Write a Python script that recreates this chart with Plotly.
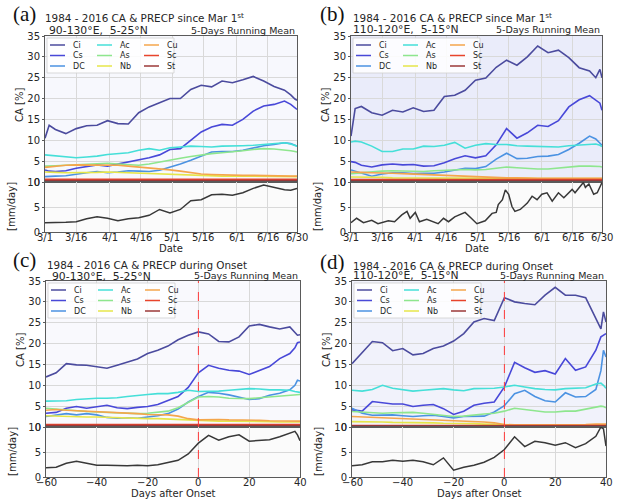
import plotly.graph_objects as go

FIG_W, FIG_H = 628, 501

# ---------------- data ----------------
cloud_types = ['Ci', 'Cs', 'DC', 'Ac', 'As', 'Nb', 'Cu', 'Sc', 'St']
cloud_colors = ['#4b4b9e', '#4848d8', '#4b92e2', '#45dfd8', '#8ee68e',
                '#e6e64a', '#f4a64c', '#e8442c', '#9b3838']

# days since Mar 1 (panels a, b)
date_days = [0, 2, 5, 10, 15, 20, 25, 30, 35, 40, 45, 50, 55, 60, 65, 70, 75,
             80, 85, 90, 95, 100, 105, 110, 115, 118, 120, 121]
date_tick_vals = [0, 15, 31, 46, 61, 76, 92, 107, 121]
date_tick_text = ['3/1', '3/16', '4/1', '4/16', '5/1', '5/16', '6/1', '6/16', '6/30']

# days after onset (panels c, d)
onset_days = [-60, -56, -52, -48, -44, -40, -36, -32, -28, -24, -20, -16, -12,
              -8, -4, 0, 4, 8, 12, 16, 20, 24, 28, 32, 36, 38, 39, 40]
onset_tick_vals = [-60, -40, -20, 0, 20, 40]
onset_tick_text = ['\u221260', '\u221240', '\u221220', '0', '20', '40']

ca_tick_vals = [0, 5, 10, 15, 20, 25, 30, 35]
precip_tick_vals = [0, 5, 10]

# ---- panel (a): 90-130E, 5-25N, since Mar 1
a_Ci = [10.5, 13.6, 12.6, 11.6, 12.8, 13.5, 13.6, 14.7, 14.0, 13.9, 16.6, 18.0, 19.0, 20.0,
        20.0, 22.2, 23.2, 22.8, 24.2, 23.8, 24.5, 25.3, 24.2, 22.9, 22.0, 20.9, 19.9, 19.6]
a_Cs = [2.9, 2.6, 2.5, 2.7, 3.3, 3.7, 4.1, 3.8, 4.3, 4.9, 5.3, 5.8, 6.5, 7.8,
        8.0, 10.0, 12.0, 13.2, 13.8, 13.6, 15.0, 17.0, 18.2, 18.6, 19.4, 18.6, 17.8, 17.4]
a_DC = [1.3, 1.3, 1.4, 1.5, 1.9, 2.2, 2.5, 2.2, 2.4, 2.7, 2.6, 2.5, 2.8, 3.5,
        4.3, 5.2, 6.2, 7.2, 7.3, 7.3, 7.6, 8.1, 8.7, 9.0, 9.4, 9.2, 8.8, 8.6]
a_Ac = [6.5, 6.4, 6.3, 5.9, 5.8, 6.0, 6.2, 6.6, 6.8, 7.0, 7.6, 8.0, 7.6, 8.2,
        8.4, 8.6, 8.5, 8.4, 8.6, 8.6, 8.7, 8.8, 9.0, 9.2, 9.4, 9.1, 8.7, 8.6]
a_As = [3.8, 3.8, 3.9, 4.0, 4.1, 4.2, 4.3, 4.5, 4.3, 4.1, 4.0, 4.3, 4.8, 5.2,
        5.7, 6.1, 6.5, 6.8, 7.0, 7.2, 7.5, 7.8, 8.0, 7.9, 7.7, 7.5, 7.3, 7.2]
a_Nb = [2.4, 2.4, 2.3, 2.2, 2.2, 2.3, 2.3, 2.4, 2.3, 2.2, 2.1, 2.0, 1.9, 1.8,
        1.7, 1.6, 1.5, 1.5, 1.4, 1.4, 1.4, 1.4, 1.3, 1.3, 1.3, 1.3, 1.3, 1.3]
a_Cu = [3.5, 3.6, 3.8, 4.0, 4.1, 4.1, 4.0, 4.1, 4.0, 3.8, 3.6, 3.3, 3.1, 2.9,
        2.6, 2.3, 1.9, 1.8, 1.7, 1.7, 1.6, 1.6, 1.5, 1.5, 1.4, 1.4, 1.4, 1.4]
a_Sc = [0.6, 0.6, 0.6, 0.6, 0.6, 0.6, 0.6, 0.6, 0.6, 0.6, 0.6, 0.6, 0.6, 0.6,
        0.6, 0.6, 0.6, 0.6, 0.6, 0.6, 0.6, 0.6, 0.6, 0.6, 0.6, 0.6, 0.6, 0.6]
a_St = [0.3, 0.3, 0.3, 0.3, 0.3, 0.3, 0.3, 0.3, 0.3, 0.3, 0.3, 0.3, 0.3, 0.3,
        0.3, 0.3, 0.3, 0.3, 0.3, 0.3, 0.3, 0.3, 0.3, 0.3, 0.3, 0.3, 0.3, 0.3]
a_precip = [1.9, 1.9, 1.9, 2.0, 2.1, 2.7, 3.1, 2.8, 2.3, 2.7, 2.9, 3.4, 4.6, 3.9,
            4.6, 6.4, 6.6, 7.6, 7.7, 7.5, 8.0, 8.9, 9.6, 9.1, 8.6, 8.5, 8.7, 8.9]

# ---- panel (b): 110-120E, 5-15N, since Mar 1
b_Ci = [11.0, 17.6, 18.1, 16.6, 16.0, 17.2, 16.8, 17.8, 16.9, 17.2, 20.5, 20.8, 22.0, 24.4,
        24.9, 27.5, 29.2, 28.0, 30.0, 32.6, 31.0, 31.6, 29.8, 27.4, 26.6, 25.0, 27.0, 25.0]
b_Cs = [4.9, 4.7, 4.0, 3.6, 4.1, 4.3, 4.1, 4.2, 3.8, 3.9, 4.6, 5.6, 6.3, 5.8,
        6.3, 8.9, 12.8, 10.5, 11.8, 13.6, 13.3, 14.7, 18.0, 19.7, 20.7, 19.5, 18.9, 17.2]
b_DC = [2.9, 2.6, 2.0, 1.4, 1.9, 2.2, 2.2, 2.0, 2.1, 2.1, 2.4, 2.9, 3.3, 3.2,
        3.7, 5.5, 6.9, 5.6, 5.7, 6.1, 6.2, 6.6, 7.8, 9.3, 11.0, 10.3, 9.3, 8.8]
b_Ac = [9.6, 9.8, 9.6, 8.6, 7.3, 7.3, 7.9, 7.9, 8.6, 8.5, 8.8, 9.5, 8.1, 8.8,
        9.2, 9.0, 9.0, 8.7, 8.6, 8.5, 8.5, 8.4, 8.7, 8.8, 9.0, 9.1, 8.8, 8.5]
b_As = [2.0, 2.1, 2.2, 2.4, 2.6, 2.7, 2.6, 2.5, 2.5, 2.7, 2.8, 2.9, 3.0, 2.9,
        3.0, 3.3, 3.6, 3.4, 3.2, 3.1, 3.1, 3.3, 3.6, 3.8, 3.8, 3.8, 3.7, 3.6]
b_Nb = [1.2, 1.2, 1.1, 1.1, 1.1, 1.0, 1.0, 1.0, 1.0, 1.0, 0.9, 0.9, 0.9, 0.9,
        0.9, 0.9, 0.9, 0.9, 0.9, 0.8, 0.8, 0.8, 0.8, 0.8, 0.8, 0.8, 0.8, 0.8]
b_Cu = [2.4, 2.4, 2.3, 2.2, 2.2, 2.1, 2.0, 1.9, 1.8, 1.6, 1.5, 1.4, 1.3, 1.2,
        1.1, 1.1, 1.0, 1.0, 0.9, 0.9, 0.9, 0.9, 0.9, 0.9, 0.9, 0.9, 0.9, 0.9]
b_Sc = [0.5, 0.5, 0.5, 0.5, 0.5, 0.5, 0.5, 0.5, 0.5, 0.5, 0.5, 0.5, 0.5, 0.5,
        0.5, 0.5, 0.5, 0.5, 0.5, 0.5, 0.5, 0.5, 0.5, 0.5, 0.5, 0.5, 0.5, 0.5]
b_St = [0.3, 0.3, 0.3, 0.3, 0.3, 0.3, 0.3, 0.3, 0.3, 0.3, 0.3, 0.3, 0.3, 0.3,
        0.3, 0.3, 0.3, 0.3, 0.3, 0.3, 0.3, 0.3, 0.3, 0.3, 0.3, 0.3, 0.3, 0.3]
b_precip_days = [0, 2.7, 6, 10, 13, 18, 21, 24.5, 27, 28.5, 31, 33, 36.5, 40, 42, 44.6,
                 47, 50, 55, 58, 60.7, 64.7, 68, 70, 71, 73, 74.4, 76, 77.6, 79, 81.6,
                 85, 87.3, 89.7, 92, 94.5, 97, 100, 102.6, 106.6, 108, 112, 113,
                 114.7, 117, 118.7, 121]
b_precip = [1.9, 2.8, 1.9, 2.4, 1.7, 2.3, 2.1, 3.5, 4.2, 2.8, 4.0, 2.1, 2.6, 2.1, 1.7, 2.8,
            2.1, 3.1, 4.0, 2.8, 1.7, 2.3, 3.8, 4.0, 5.6, 6.6, 8.6, 7.7, 5.2, 4.2, 4.6,
            5.9, 7.3, 6.6, 7.7, 8.0, 6.3, 8.0, 7.0, 8.7, 8.0, 10.1, 9.1,
            9.8, 7.7, 8.0, 10.1]

# ---- panel (c): 90-130E, 5-25N, during onset
c_Ci = [12.0, 13.0, 15.2, 14.9, 14.8, 14.4, 14.1, 14.8, 15.5, 16.3, 17.6, 18.4, 19.4, 20.9,
        22.0, 22.8, 22.3, 20.5, 20.4, 21.6, 24.2, 24.6, 24.0, 23.5, 24.0, 22.6, 22.0, 22.1]
c_Cs = [3.3, 3.5, 4.5, 4.9, 4.5, 4.9, 5.2, 4.6, 4.4, 4.7, 4.9, 5.4, 6.3, 7.3,
        9.5, 13.0, 14.8, 14.1, 13.6, 13.4, 12.6, 13.6, 14.5, 16.4, 17.6, 19.0, 20.2, 20.4]
c_DC = [2.5, 2.8, 3.2, 2.9, 3.2, 2.9, 2.3, 2.1, 2.2, 2.1, 2.4, 2.7, 3.2, 4.3,
        6.0, 7.3, 8.3, 8.1, 7.7, 7.1, 6.6, 6.8, 7.6, 8.1, 8.9, 10.0, 11.2, 11.0]
c_Ac = [6.2, 6.2, 6.3, 6.6, 6.8, 6.9, 6.9, 7.0, 7.3, 7.6, 7.8, 8.0, 8.0, 8.3,
        8.8, 8.5, 8.5, 8.6, 8.8, 9.0, 9.2, 9.1, 8.9, 8.9, 8.8, 8.5, 8.4, 8.3]
c_As = [4.5, 4.3, 4.0, 3.9, 3.7, 3.6, 3.5, 3.4, 3.3, 3.2, 3.3, 3.5, 3.8, 4.6,
        6.0, 7.2, 7.3, 7.2, 6.9, 6.8, 6.8, 7.0, 7.2, 7.4, 7.6, 7.7, 7.8, 7.8]
c_Nb = [2.7, 2.6, 2.6, 2.5, 2.4, 2.4, 2.3, 2.2, 2.2, 2.1, 2.0, 2.0, 1.9, 1.8,
        1.6, 1.5, 1.5, 1.4, 1.4, 1.4, 1.3, 1.3, 1.3, 1.2, 1.2, 1.2, 1.2, 1.2]
c_Cu = [4.0, 4.2, 4.0, 3.9, 3.8, 3.7, 3.6, 3.5, 3.4, 3.2, 3.0, 2.9, 2.9, 2.6,
        2.0, 1.7, 1.8, 1.8, 1.7, 1.7, 1.6, 1.6, 1.5, 1.5, 1.4, 1.4, 1.4, 1.4]
c_Sc = [0.5, 0.5, 0.5, 0.5, 0.5, 0.5, 0.5, 0.5, 0.5, 0.5, 0.5, 0.5, 0.5, 0.5,
        0.5, 0.5, 0.5, 0.5, 0.5, 0.5, 0.5, 0.5, 0.5, 0.5, 0.5, 0.5, 0.5, 0.5]
c_St = [0.3, 0.3, 0.3, 0.3, 0.3, 0.3, 0.3, 0.3, 0.3, 0.3, 0.3, 0.3, 0.3, 0.3,
        0.3, 0.3, 0.3, 0.3, 0.3, 0.3, 0.3, 0.3, 0.3, 0.3, 0.3, 0.3, 0.3, 0.3]
c_precip = [1.9, 2.0, 2.8, 3.2, 2.8, 2.4, 2.4, 2.3, 2.3, 2.4, 2.3, 2.5, 3.0, 3.4,
            4.7, 6.9, 8.5, 7.5, 8.2, 8.6, 7.3, 7.4, 7.6, 8.2, 8.9, 9.3, 8.6, 7.4]

# ---- panel (d): 110-120E, 5-15N, during onset
d_Ci = [15.2, 17.9, 20.5, 20.2, 18.3, 18.8, 17.3, 17.6, 18.8, 19.4, 20.6, 22.4, 25.2, 26.0,
        25.5, 31.0, 30.0, 29.6, 29.3, 31.6, 33.5, 31.6, 31.6, 31.0, 25.8, 23.5, 27.6, 25.2]
d_Cs = [4.1, 3.8, 6.1, 5.8, 5.5, 5.5, 4.9, 5.2, 5.4, 4.4, 3.0, 3.8, 5.2, 5.7,
        6.0, 9.6, 15.5, 14.2, 13.1, 13.5, 12.7, 16.4, 13.6, 14.4, 18.4, 21.6, 22.0, 22.4]
d_DC = [4.5, 3.3, 2.8, 2.8, 2.9, 2.7, 2.5, 2.7, 2.8, 2.5, 2.2, 2.5, 2.6, 2.6,
        3.6, 5.1, 8.0, 8.8, 7.3, 6.3, 6.0, 8.2, 7.2, 7.3, 9.0, 13.5, 18.4, 16.8]
d_Ac = [8.8, 8.6, 9.0, 10.0, 9.3, 9.0, 8.6, 8.8, 9.0, 9.2, 8.9, 8.7, 9.2, 9.2,
        9.3, 9.6, 10.0, 9.6, 9.2, 9.0, 8.9, 9.2, 9.3, 9.4, 10.3, 10.5, 10.0, 9.3]
d_As = [3.7, 3.6, 3.4, 3.3, 3.4, 3.4, 3.5, 3.3, 3.0, 2.8, 2.5, 2.6, 2.9, 3.1,
        3.3, 3.8, 4.5, 4.2, 3.8, 3.6, 3.6, 3.8, 3.8, 4.3, 4.8, 5.0, 4.9, 4.6]
d_Nb = [1.3, 1.3, 1.2, 1.2, 1.1, 1.1, 1.0, 1.0, 1.0, 0.9, 0.9, 0.8, 0.8, 0.7,
        0.6, 0.5, 0.5, 0.5, 0.5, 0.5, 0.5, 0.5, 0.5, 0.5, 0.5, 0.5, 0.5, 0.5]
d_Cu = [2.5, 2.4, 2.3, 2.2, 2.1, 2.1, 2.0, 1.9, 1.8, 1.7, 1.5, 1.4, 1.3, 1.2,
        1.0, 0.6, 0.5, 0.5, 0.5, 0.5, 0.5, 0.5, 0.6, 0.6, 0.7, 0.7, 0.7, 0.7]
d_Sc = [0.3, 0.3, 0.3, 0.3, 0.3, 0.3, 0.3, 0.3, 0.3, 0.3, 0.3, 0.3, 0.3, 0.3,
        0.3, 0.3, 0.3, 0.3, 0.3, 0.3, 0.3, 0.3, 0.3, 0.3, 0.3, 0.3, 0.3, 0.3]
d_St = [0.2, 0.2, 0.2, 0.2, 0.2, 0.2, 0.2, 0.2, 0.2, 0.2, 0.2, 0.2, 0.2, 0.2,
        0.2, 0.2, 0.2, 0.2, 0.2, 0.2, 0.2, 0.2, 0.2, 0.2, 0.2, 0.2, 0.2, 0.2]
d_precip = [2.3, 2.5, 3.1, 3.1, 3.4, 3.2, 3.4, 3.1, 2.5, 3.9, 1.4, 2.0, 2.4, 3.0,
            4.0, 5.6, 8.2, 6.2, 7.3, 7.0, 6.5, 7.0, 6.0, 6.8, 8.3, 10.2, 9.8, 6.3]

panel_tags = ['(a)', '(b)', '(c)', '(d)']
panel_titles = ['1984 - 2016 CA & PRECP since Mar 1<sup>st</sup>',
                '1984 - 2016 CA & PRECP since Mar 1<sup>st</sup>',
                '1984 - 2016 CA & PRECP during Onset',
                '1984 - 2016 CA & PRECP during Onset']
panel_regions = ['90-130\u00b0E,  5-25\u00b0N', '110-120\u00b0E,  5-15\u00b0N',
                 '90-130\u00b0E,  5-25\u00b0N', '110-120\u00b0E,  5-15\u00b0N']
smooth_note = '5-Days Running Mean'
ca_label = 'CA [%]'
precip_label = '[mm/day]'

# ---------------- layout geometry (pixels) ----------------
# L, R, top of CA, CA/precip boundary, bottom of precip
boxes = [(45, 297, 36, 182, 232), (351, 602, 36, 182, 232),
         (46, 300, 281, 427, 477), (352, 606, 281, 427, 477)]
tag_pos = [(38, 14.5), (347, 14.5), (38, 259.5), (347, 261.5)]
title_pos = [(43, 17.5), (351, 17), (45, 265), (351, 265.5)]
region_pos = [(47, 30), (351, 29.5), (50, 276), (351, 275.5)]
note_y = [30, 29.5, 275, 275.5]
# faint haze left by the many single-year curves behind the means
haze_alpha = [0.05, 0.13, 0.04, 0.09]

panels = [
    dict(x=date_days, ca=[a_Ci, a_Cs, a_DC, a_Ac, a_As, a_Nb, a_Cu, a_Sc, a_St],
         px=date_days, pr=a_precip, onset=False),
    dict(x=date_days, ca=[b_Ci, b_Cs, b_DC, b_Ac, b_As, b_Nb, b_Cu, b_Sc, b_St],
         px=b_precip_days, pr=b_precip, onset=False),
    dict(x=onset_days, ca=[c_Ci, c_Cs, c_DC, c_Ac, c_As, c_Nb, c_Cu, c_Sc, c_St],
         px=onset_days, pr=c_precip, onset=True),
    dict(x=onset_days, ca=[d_Ci, d_Cs, d_DC, d_Ac, d_As, d_Nb, d_Cu, d_Sc, d_St],
         px=onset_days, pr=d_precip, onset=True),
]


def fx(p):
    return p / FIG_W


def fy(p):
    return 1 - p / FIG_H


FONT = 'DejaVu Sans'
TXT = '#262626'
GRID = '#d9d9d9'
FRAME = '#5a5a5a'

fig = go.Figure()
layout = dict(template='none', width=FIG_W, height=FIG_H, autosize=False,
              margin=dict(l=0, r=0, t=0, b=0, pad=0),
              paper_bgcolor='white', plot_bgcolor='white', showlegend=False,
              font=dict(family=FONT, size=10, color=TXT))
shapes = []
annotations = []


def note(x, y, text, size, xanchor='center', angle=0, family=FONT, color=TXT,
         xref='paper'):
    annotations.append(dict(xref=xref, yref='paper', x=x, y=y, text=text,
                            xanchor=xanchor, yanchor='middle', showarrow=False,
                            textangle=angle, font=dict(family=family, size=size, color=color)))


for i, p in enumerate(panels):
    L, R, T, M, B = boxes[i]
    ca_n, pr_n = 2 * i + 1, 2 * i + 2
    xa_ca = 'x' if ca_n == 1 else 'x%d' % ca_n
    ya_ca = 'y' if ca_n == 1 else 'y%d' % ca_n
    xa_pr, ya_pr = 'x%d' % pr_n, 'y%d' % pr_n
    if p['onset']:
        xr, tv, tt, xlab = [-60, 40], onset_tick_vals, onset_tick_text, 'Days after Onset'
    else:
        xr, tv, tt, xlab = [0, 121], date_tick_vals, date_tick_text, 'Date'

    common_x = dict(domain=[fx(L), fx(R)], range=xr, tickvals=tv,
                    automargin=False, showgrid=True, gridcolor=GRID, gridwidth=1,
                    zeroline=False, showline=True, linecolor=FRAME, linewidth=1,
                    mirror=True, showticklabels=False, ticks='')
    common_y = dict(automargin=False, showgrid=True, gridcolor=GRID, gridwidth=1,
                    zeroline=False, showline=True, linecolor=FRAME, linewidth=1,
                    mirror=True, ticks='outside', ticklen=2, tickcolor=FRAME,
                    tickfont=dict(family=FONT, size=10, color=TXT))
    layout['xaxis' + ('' if ca_n == 1 else str(ca_n))] = dict(common_x, anchor=ya_ca)
    layout['yaxis' + ('' if ca_n == 1 else str(ca_n))] = dict(
        common_y, domain=[fy(M), fy(T)], anchor=xa_ca, range=[0, 35],
        tickvals=ca_tick_vals)
    layout['xaxis%d' % pr_n] = dict(common_x, anchor=ya_pr)
    layout['yaxis%d' % pr_n] = dict(common_y, domain=[fy(B), fy(M)], anchor=xa_pr,
                                    range=[0, 10.2], tickvals=precip_tick_vals)

    # light haze behind the mean curves
    shapes.append(dict(type='rect', xref=xa_ca + ' domain', yref=ya_ca + ' domain',
                       x0=0, x1=1, y0=0, y1=1, layer='below', line=dict(width=0),
                       fillcolor='rgba(95,110,215,%.2f)' % haze_alpha[i]))
    shapes.append(dict(type='rect', xref=xa_pr + ' domain', yref=ya_pr + ' domain',
                       x0=0, x1=1, y0=0, y1=1, layer='below', line=dict(width=0),
                       fillcolor='rgba(150,150,150,0.04)'))

    # x tick labels placed just under the precipitation panel
    for v, t in zip(tv, tt):
        note(v, fy(B + 5.5), t, 10, xref=xa_pr)

    for k, name in enumerate(cloud_types):
        w = 2.2 if name in ('Sc', 'St') else 1.6
        fig.add_trace(go.Scatter(x=p['x'], y=p['ca'][k], mode='lines', name=name,
                                 line=dict(color=cloud_colors[k], width=w),
                                 xaxis=xa_ca, yaxis=ya_ca, hoverinfo='skip'))
    fig.add_trace(go.Scatter(x=p['px'], y=p['pr'], mode='lines', name='PRECP',
                             line=dict(color='#383838', width=1.5),
                             xaxis=xa_pr, yaxis=ya_pr, hoverinfo='skip'))

    if p['onset']:
        for xa, ya in ((xa_ca, ya_ca), (xa_pr, ya_pr)):
            shapes.append(dict(type='line', xref=xa, yref=ya + ' domain', x0=0, x1=0,
                               y0=0, y1=1, line=dict(color='#ff3b3b', width=1, dash='dash')))

    # legend box (3 columns x 3 rows)
    shapes.append(dict(type='rect', xref='paper', yref='paper',
                       x0=fx(L + 2), x1=fx(L + 129), y0=fy(T + 37), y1=fy(T + 2),
                       fillcolor='rgba(255,255,255,0.85)',
                       line=dict(color='#cfcfcf', width=0.8)))
    for k, name in enumerate(cloud_types):
        col, row = k // 3, k % 3
        yy = T + 9 + 10.5 * row
        x0 = L + 5 + 47 * col
        shapes.append(dict(type='line', xref='paper', yref='paper',
                           x0=fx(x0), x1=fx(x0 + 15), y0=fy(yy), y1=fy(yy),
                           line=dict(color=cloud_colors[k], width=1.5)))
        note(fx(x0 + 21), fy(yy), name, 8, xanchor='left')

    # panel texts
    note(fx(tag_pos[i][0]), fy(tag_pos[i][1]), panel_tags[i], 21, xanchor='right',
         family='Liberation Serif', color='#111')
    note(fx(title_pos[i][0]), fy(title_pos[i][1]), panel_titles[i], 10.4, xanchor='left')
    note(fx(region_pos[i][0]), fy(region_pos[i][1]), panel_regions[i], 10.8, xanchor='left')
    note(fx(R), fy(note_y[i]), smooth_note, 9.5, xanchor='right')
    note(fx((L + R) / 2), fy(B + 16), xlab, 10)
    note(fx(L - 26), fy((T + M) / 2 - 4), ca_label, 10, angle=-90)
    note(fx(L - 34), fy((M + B) / 2), precip_label, 10, angle=-90)

layout['shapes'] = shapes
layout['annotations'] = annotations
fig.update_layout(**layout)
fig.write_html('out.html', config={'displayModeBar': False},
               post_script="document.body.style.margin='0px';document.body.style.padding='0px';")
